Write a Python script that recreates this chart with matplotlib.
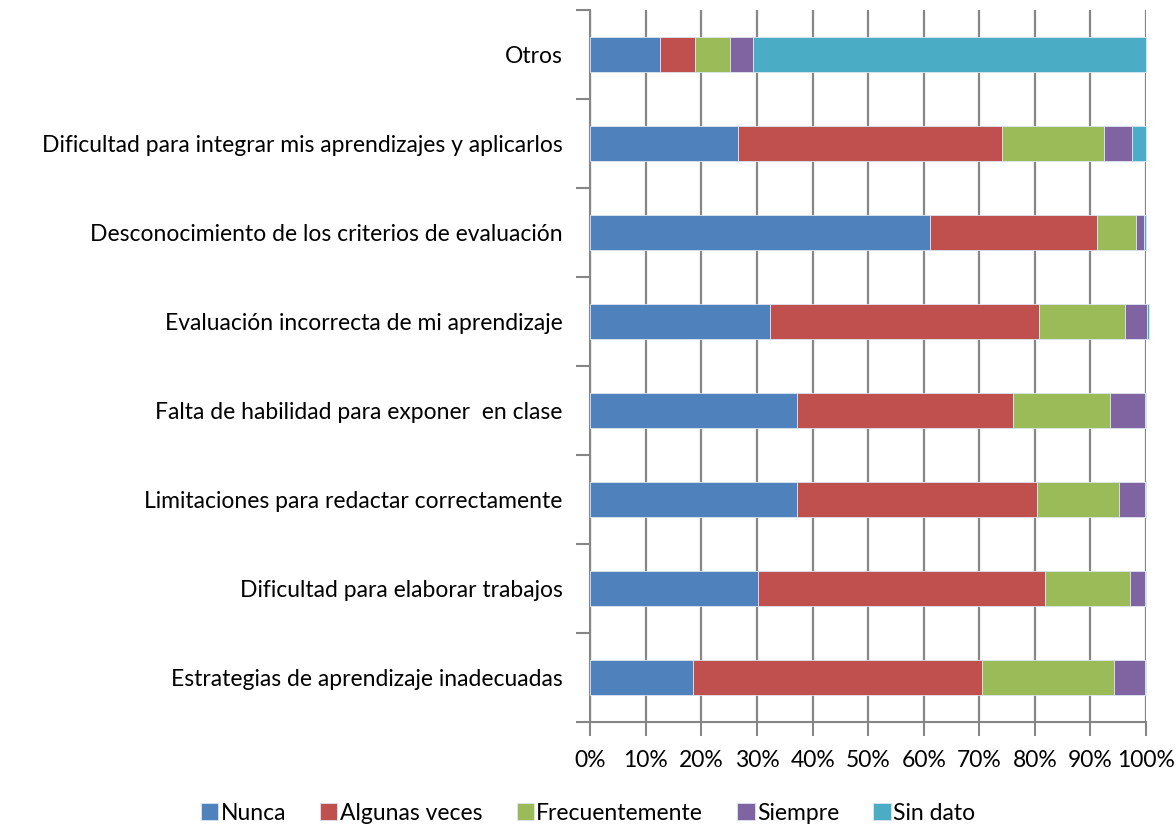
import matplotlib.pyplot as plt
import numpy as np

# Categories, bottom to top
categorias = [
    'Estrategias de aprendizaje inadecuadas',
    'Dificultad para elaborar trabajos',
    'Limitaciones para redactar correctamente',
    'Falta de habilidad para exponer  en clase',
    'Evaluación incorrecta de mi aprendizaje',
    'Desconocimiento de los criterios de evaluación',
    'Dificultad para integrar mis aprendizajes y aplicarlos',
    'Otros',
]

# Percentages per series (same order as categorias)
nunca = [18.4, 30.1, 37.1, 37.1, 32.3, 61.2, 26.6, 12.5]
algunas_veces = [52.1, 51.7, 43.2, 38.9, 48.4, 30.0, 47.4, 6.3]
frecuentemente = [23.8, 15.3, 14.8, 17.5, 15.5, 7.0, 18.4, 6.3]
siempre = [5.5, 2.7, 4.7, 6.3, 3.9, 1.5, 5.0, 4.2]
sin_dato = [0.2, 0.2, 0.2, 0.2, 0.4, 0.3, 2.6, 70.7]

series = [nunca, algunas_veces, frecuentemente, siempre, sin_dato]
nombres = ['Nunca', 'Algunas veces', 'Frecuentemente', 'Siempre', 'Sin dato']
colores = ['#4F81BD', '#C0504D', '#9BBB59', '#8064A2', '#4BACC6']
ticks_x = [0, 10, 20, 30, 40, 50, 60, 70, 80, 90, 100]

plt.rcParams['font.family'] = ['Lato', 'DejaVu Sans']

fig = plt.figure(figsize=(11.76, 8.26), dpi=100)
ax = fig.add_axes([0.502, 0.126, 0.4725, 0.862])

y = np.arange(len(categorias))
left = np.zeros(len(categorias))
for vals, nombre, color in zip(series, nombres, colores):
    vals = np.array(vals)
    ax.barh(y, vals, left=left, height=0.4, color=color, label=nombre,
            edgecolor='#dce6f0', linewidth=0.6, zorder=3, clip_on=False)
    left += vals

ax.set_xlim(0, 100)
ax.set_ylim(-0.5, len(categorias) - 0.5)

# vertical gridlines
ax.set_xticks(ticks_x)
ax.set_xticklabels([f'{t}%' for t in ticks_x], fontsize=16.5)
ax.xaxis.grid(True, color='#868686', linewidth=1.6, zorder=0)
ax.tick_params(axis='x', length=10, width=1.5, color='#868686', pad=10)

# category labels without tick marks; ticks at boundaries
ax.set_yticks(y)
ax.set_yticklabels(categorias, fontsize=16.5)
ax.tick_params(axis='y', length=0, pad=20)
ax.set_yticks(np.arange(-0.5, len(categorias), 1), minor=True)
ax.tick_params(axis='y', which='minor', length=10, width=1.5, color='#868686')

for s in ['top', 'right']:
    ax.spines[s].set_visible(False)
for s in ['left', 'bottom']:
    ax.spines[s].set_color('#868686')
    ax.spines[s].set_linewidth(1.5)

fig.legend(loc='lower center', bbox_to_anchor=(0.5, -0.022), ncol=5, frameon=False,
           fontsize=16.5, handlelength=0.75, handleheight=0.75, handletextpad=0.1,
           columnspacing=1.5)

fig.savefig('out.png', dpi=100)
